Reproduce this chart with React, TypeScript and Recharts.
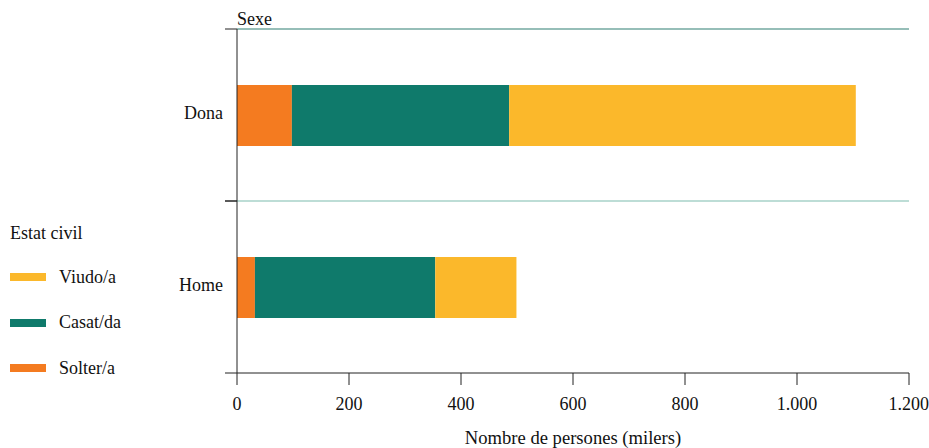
import React from "react";
import { BarChart, Bar, XAxis, YAxis, Legend, ReferenceLine, Label } from "recharts";

// Població per sexe i estat civil (milers)
const sexes = ["Dona", "Home"];
const solter = [98, 32];
const casat = [388, 322];
const viudo = [619, 145];
const xTicks = [0, 200, 400, 600, 800, 1000, 1200];
const legendOrder = ["Viudo/a", "Casat/da", "Solter/a"];

const data = sexes.map((sexe, i) => ({
  sexe,
  solter: solter[i],
  casat: casat[i],
  viudo: viudo[i],
}));

const FONT = '"Liberation Serif", "Times New Roman", serif';
const TICK_SIZE = 12;
const TICK_MARGIN = 2;

const fmt = (v: number) => String(v).replace(/\B(?=(\d{3})+(?!\d))/g, ".");

// etiqueta de categoria + marques als límits de la banda
const SexeTick = (props: any) => {
  const { x, y, payload } = props;
  const half = payload?.offset ?? 0;
  const edge = x + TICK_SIZE + TICK_MARGIN;
  return (
    <g>
      <line x1={edge - TICK_SIZE} x2={edge} y1={y - half} y2={y - half} stroke="#222" />
      <line x1={edge - TICK_SIZE} x2={edge} y1={y + half} y2={y + half} stroke="#222" />
      <text x={x} y={y} dy={4} textAnchor="end" fill="#111" fontSize={18} fontFamily={FONT}>
        {payload.value}
      </text>
    </g>
  );
};

const EstatLegend = ({ payload }: any) => {
  const items = [...(payload || [])].sort(
    (a: any, b: any) => legendOrder.indexOf(a.value) - legendOrder.indexOf(b.value)
  );
  return (
    <div style={{ fontFamily: FONT, fontSize: 18, color: "#111" }}>
      <div style={{ height: 22, lineHeight: "22px", marginBottom: 10.5 }}>Estat civil</div>
      {items.map((p: any) => (
        <div key={p.value} style={{ height: 45.5, display: "flex", alignItems: "center" }}>
          <span style={{ display: "inline-block", width: 36, height: 8, background: p.color, marginRight: 13 }} />
          <span>{p.value}</span>
        </div>
      ))}
    </div>
  );
};

export default function App() {
  return (
    <div style={{ position: "absolute", left: 0, top: 0, width: 929, height: 448, background: "#fff" }}>
      <BarChart
        width={929}
        height={448}
        data={data}
        layout="vertical"
        margin={{ top: 29, right: 20, bottom: 0, left: 0 }}
        style={{ fontFamily: FONT }}
      >
        <XAxis
          type="number"
          domain={[0, 1200]}
          ticks={xTicks}
          tickFormatter={fmt}
          height={75}
          tickSize={12}
          tickMargin={12}
          stroke="#222"
          tick={{ fill: "#111", fontSize: 18, fontFamily: FONT }}
        >
          <Label
            value="Nombre de persones (milers)"
            position="insideBottom"
            offset={4}
            fill="#111"
            fontSize={18.6}
            fontFamily={FONT}
          />
        </XAxis>
        <YAxis
          type="category"
          dataKey="sexe"
          width={237}
          tickLine={false}
          tickSize={TICK_SIZE}
          tickMargin={TICK_MARGIN}
          stroke="#222"
          tick={<SexeTick />}
        />
        <ReferenceLine
          y="Dona"
          position="start"
          stroke="#2f7f72"
          strokeWidth={1.2}
          label={({ viewBox }: any) => (
            <text x={viewBox.x} y={viewBox.y - 4} fill="#111" fontSize={18} fontFamily={FONT}>
              Sexe
            </text>
          )}
        />
        <ReferenceLine y="Home" position="start" stroke="#7dbcae" strokeWidth={1.2} />
        <Legend
          layout="vertical"
          align="center"
          verticalAlign="middle"
          content={<EstatLegend />}
          wrapperStyle={{ position: "absolute", left: 10, top: 222, width: 180 }}
        />
        <Bar dataKey="solter" name="Solter/a" stackId="a" fill="#f47b20" barSize={61} isAnimationActive={false} />
        <Bar dataKey="casat" name="Casat/da" stackId="a" fill="#0f7a6b" barSize={61} isAnimationActive={false} />
        <Bar dataKey="viudo" name="Viudo/a" stackId="a" fill="#fbb82b" barSize={61} isAnimationActive={false} />
      </BarChart>
    </div>
  );
}
